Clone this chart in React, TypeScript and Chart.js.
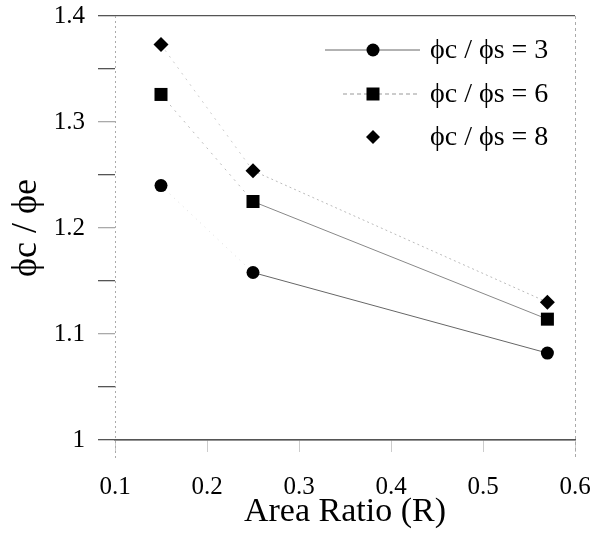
import React, { useEffect, useRef } from "react";
import { Chart, registerables } from "chart.js";

Chart.register(...registerables);

const areaRatio = [0.15, 0.25, 0.57];
const ratio3 = [1.24, 1.158, 1.082];
const ratio6 = [1.326, 1.225, 1.114];
const ratio8 = [1.373, 1.254, 1.13];
const seriesLabels = ["\u03d5c / \u03d5s = 3", "\u03d5c / \u03d5s = 6", "\u03d5c / \u03d5s = 8"];
const yTitle = "\u03d5c / \u03d5e";
const xTitle = "Area Ratio (R)";
const xTicks = [0.1, 0.2, 0.3, 0.4, 0.5, 0.6];
const yTicks = [1, 1.1, 1.2, 1.3, 1.4];

const SERIF = "'Liberation Serif', 'Times New Roman', serif";
Chart.defaults.font.family = SERIF;

const framePlugin = {
  id: "frameAndLegend",
  beforeDatasetsDraw(chart: any) {
    const ctx = chart.ctx;
    const a = chart.chartArea;
    ctx.save();
    ctx.lineWidth = 1;
    ctx.beginPath();
    ctx.setLineDash([2, 3]);
    ctx.strokeStyle = "#aaa";
    ctx.moveTo(a.left + 0.5, a.top);
    ctx.lineTo(a.left + 0.5, a.bottom + 20);
    ctx.stroke();
    ctx.beginPath();
    ctx.setLineDash([3, 3]);
    ctx.strokeStyle = "#aaa";
    ctx.moveTo(a.right + 0.5, a.top);
    ctx.lineTo(a.right + 0.5, a.bottom + 20);
    ctx.stroke();
    ctx.restore();
  },
  afterDraw(chart: any) {
    const ctx = chart.ctx;
    const rows = [
      { y: 50, style: "circle", line: [325, 420], dash: [], color: "#666" },
      { y: 94, style: "rect", line: [343, 418], dash: [4, 3], color: "#999" },
      { y: 137, style: "rectRot", line: null, dash: [], color: "#999" },
    ];
    const mx = 373;
    ctx.save();
    rows.forEach((r, i) => {
      if (r.line) {
        ctx.beginPath();
        ctx.setLineDash(r.dash);
        ctx.strokeStyle = r.color;
        ctx.lineWidth = 1;
        ctx.moveTo(r.line[0], r.y);
        ctx.lineTo(r.line[1], r.y);
        ctx.stroke();
        ctx.setLineDash([]);
      }
      ctx.fillStyle = "#000";
      ctx.beginPath();
      if (r.style === "circle") {
        ctx.arc(mx, r.y, 6.5, 0, Math.PI * 2);
      } else if (r.style === "rect") {
        ctx.rect(mx - 6.5, r.y - 6.5, 13, 13);
      } else {
        ctx.moveTo(mx - 7, r.y);
        ctx.lineTo(mx, r.y - 7);
        ctx.lineTo(mx + 7, r.y);
        ctx.lineTo(mx, r.y + 7);
        ctx.closePath();
      }
      ctx.fill();
      ctx.font = `28px ${SERIF}`;
      ctx.textBaseline = "middle";
      ctx.textAlign = "left";
      ctx.fillText(seriesLabels[i], 430, r.y + 1);
    });
    ctx.restore();
  },
};

function isMajor(v: number) {
  return yTicks.some((t) => Math.abs(t - v) < 1e-6);
}

export default function App() {
  const ref = useRef<HTMLCanvasElement>(null);
  useEffect(() => {
    if (!ref.current) return;
    const mk = (vals: number[]) => areaRatio.map((x, i) => ({ x, y: vals[i] }));
    const chart = new Chart(ref.current, {
      type: "line",
      data: {
        datasets: [
          {
            label: seriesLabels[0],
            data: mk(ratio3),
            pointStyle: "circle",
            pointRadius: 6.5,
            pointBackgroundColor: "#000",
            pointBorderWidth: 0,
            borderWidth: 1,
            borderColor: "#666",
            segment: {
              borderColor: (c: any) => (c.p0DataIndex === 0 ? "#ddd" : "#666"),
              borderDash: (c: any) => (c.p0DataIndex === 0 ? [1, 5] : []),
            },
          },
          {
            label: seriesLabels[1],
            data: mk(ratio6),
            pointStyle: "rect",
            pointRadius: 9.2,
            pointBackgroundColor: "#000",
            pointBorderWidth: 0,
            borderWidth: 1,
            borderColor: "#888",
            segment: {
              borderColor: (c: any) => (c.p0DataIndex === 0 ? "#bbb" : "#888"),
              borderDash: (c: any) => (c.p0DataIndex === 0 ? [2, 5] : []),
            },
          },
          {
            label: seriesLabels[2],
            data: mk(ratio8),
            pointStyle: "rectRot",
            pointRadius: 7.5,
            pointBackgroundColor: "#000",
            pointBorderWidth: 0,
            borderWidth: 1,
            borderColor: "#bbb",
            segment: {
              borderColor: (c: any) => (c.p0DataIndex === 0 ? "#ccc" : "#bbb"),
              borderDash: (c: any) => (c.p0DataIndex === 0 ? [2, 5] : [2, 3]),
            },
          },
        ],
      },
      options: {
        responsive: false,
        animation: false,
        layout: { padding: { top: 16, right: 18, left: 0, bottom: 0 } },
        plugins: { legend: { display: false }, tooltip: { enabled: false } },
        scales: {
          x: {
            type: "linear",
            min: 0.1,
            max: 0.6,
            afterFit: (s: any) => {
              s.height = 98;
              s.paddingLeft = 0;
              s.paddingRight = 0;
            },
            afterBuildTicks: (s: any) => {
              s.ticks = xTicks.map((v) => ({ value: v }));
            },
            ticks: {
              font: { family: SERIF, size: 25 },
              color: "#000",
              padding: 20,
              maxRotation: 0,
              callback: (v: any) => Number(v).toFixed(1),
            },
            grid: {
              display: true,
              drawOnChartArea: false,
              tickLength: 12,
              tickColor: "#ccc",
              lineWidth: 1,
            },
            border: { display: true, color: "#555", width: 1.5 },
            title: {
              display: true,
              text: xTitle,
              font: { family: SERIF, size: 34 },
              color: "#000",
              padding: { top: 0, bottom: 6 },
            },
          },
          y: {
            type: "linear",
            min: 1,
            max: 1.4,
            afterFit: (s: any) => {
              s.width = 115;
              s.paddingTop = 0;
              s.paddingBottom = 0;
            },
            ticks: {
              stepSize: 0.05,
              font: { family: SERIF, size: 25 },
              color: "#000",
              padding: 13,
              callback: (v: any) => {
                const n = Number(v);
                if (!isMajor(n)) return "";
                return Math.abs(n - 1) < 1e-6 ? "1" : n.toFixed(1);
              },
            },
            grid: {
              display: true,
              drawOnChartArea: true,
              tickLength: 17,
              color: (c: any) => {
                const v = c.tick ? c.tick.value : 0;
                return Math.abs(v - 1.4) < 1e-6 || Math.abs(v - 1) < 1e-6 ? "#555" : "rgba(0,0,0,0)";
              },
              tickColor: (c: any) => {
                const v = c.tick ? c.tick.value : 0;
                if (Math.abs(v - 1.4) < 1e-6 || Math.abs(v - 1) < 1e-6) return "#555";
                return isMajor(v) ? "#aaa" : "#555";
              },
              lineWidth: 1.3,
            },
            border: { display: false },
            title: {
              display: true,
              text: yTitle,
              font: { family: SERIF, size: 36 },
              color: "#000",
              padding: { top: 5, bottom: 0 },
            },
          },
        },
      },
      plugins: [framePlugin],
    } as any);
    return () => chart.destroy();
  }, []);
  return (
    <div style={{ position: "absolute", left: 0, top: 0, width: 593, height: 538, background: "#fff" }}>
      <canvas ref={ref} width={593} height={538} />
    </div>
  );
}
